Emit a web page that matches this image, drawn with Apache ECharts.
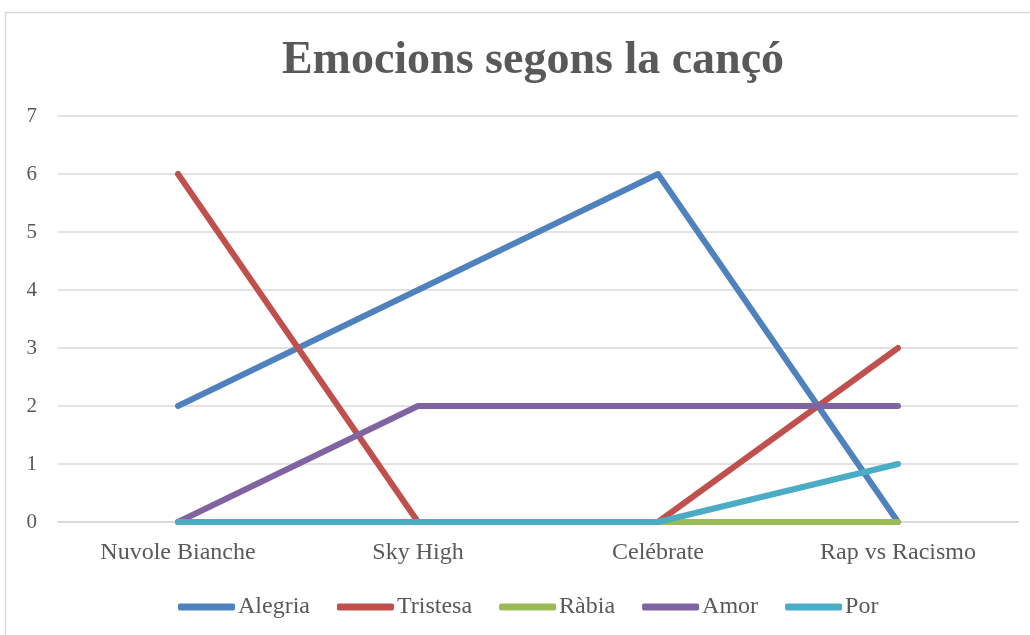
<!DOCTYPE html>
<html>
<head>
<meta charset="utf-8">
<script src="https://cdn.jsdelivr.net/npm/echarts@6/dist/echarts.min.js"></script>
<style>html,body{margin:0;padding:0;background:#fff}#c{width:1030px;height:635px}</style>
</head>
<body>
<div id="c"></div>
<script>
const categories = ['Nuvole Bianche', 'Sky High', 'Celébrate', 'Rap vs Racismo'];
const alegria = [2, 4, 6, 0];
const tristesa = [6, 0, 0, 3];
const rabia = [0, 0, 0, 0];
const amor = [0, 2, 2, 2];
const por = [0, 0, 0, 1];
const seriesNames = ['Alegria', 'Tristesa', 'Ràbia', 'Amor', 'Por'];
const colors = ['#4F81BD', '#C0504D', '#9BBB59', '#8064A2', '#4BACC6'];

const font = '"Liberation Serif", "DejaVu Serif", serif';
const chart = echarts.init(document.getElementById('c'));
const data = [alegria, tristesa, rabia, amor, por];
chart.setOption({
  animation: false,
  color: colors,
  graphic: [{
    type: 'rect', shape: {x: 5.5, y: 12.5, width: 1100, height: 700},
    style: {fill: 'none', stroke: '#d9d9d9', lineWidth: 1.5}, silent: true, z: -1
  }],
  title: {
    text: 'Emocions segons la cançó', left: 528, top: 33, textAlign: 'center',
    textStyle: {fontFamily: font, fontWeight: 'bold', fontSize: 46, color: '#595959'}
  },
  legend: {
    top: 590, left: 173, itemWidth: 57, itemHeight: 7, itemGap: 27,
    icon: 'roundRect',
    textStyle: {fontFamily: font, fontSize: 24, color: '#595959', padding: [0, 0, 0, -2]},
    data: seriesNames
  },
  grid: {left: 58, right: 12, top: 116, bottom: 113},
  xAxis: {
    type: 'category', data: categories, boundaryGap: true,
    axisLine: {lineStyle: {color: '#d9d9d9', width: 2}},
    axisTick: {show: false},
    axisLabel: {fontFamily: font, fontSize: 24, color: '#595959', margin: 19}
  },
  yAxis: {
    type: 'value', min: 0, max: 7, interval: 1,
    axisLine: {show: false}, axisTick: {show: false},
    splitLine: {lineStyle: {color: '#d9d9d9', width: 1.5}},
    axisLabel: {fontFamily: font, fontSize: 21, color: '#595959', margin: 21}
  },
  series: seriesNames.map((n, i) => ({
    name: n, type: 'line', data: data[i], symbol: 'none',
    lineStyle: {width: 6, color: colors[i], cap: 'round', join: 'round'}
  }))
});
</script>
</body>
</html>
